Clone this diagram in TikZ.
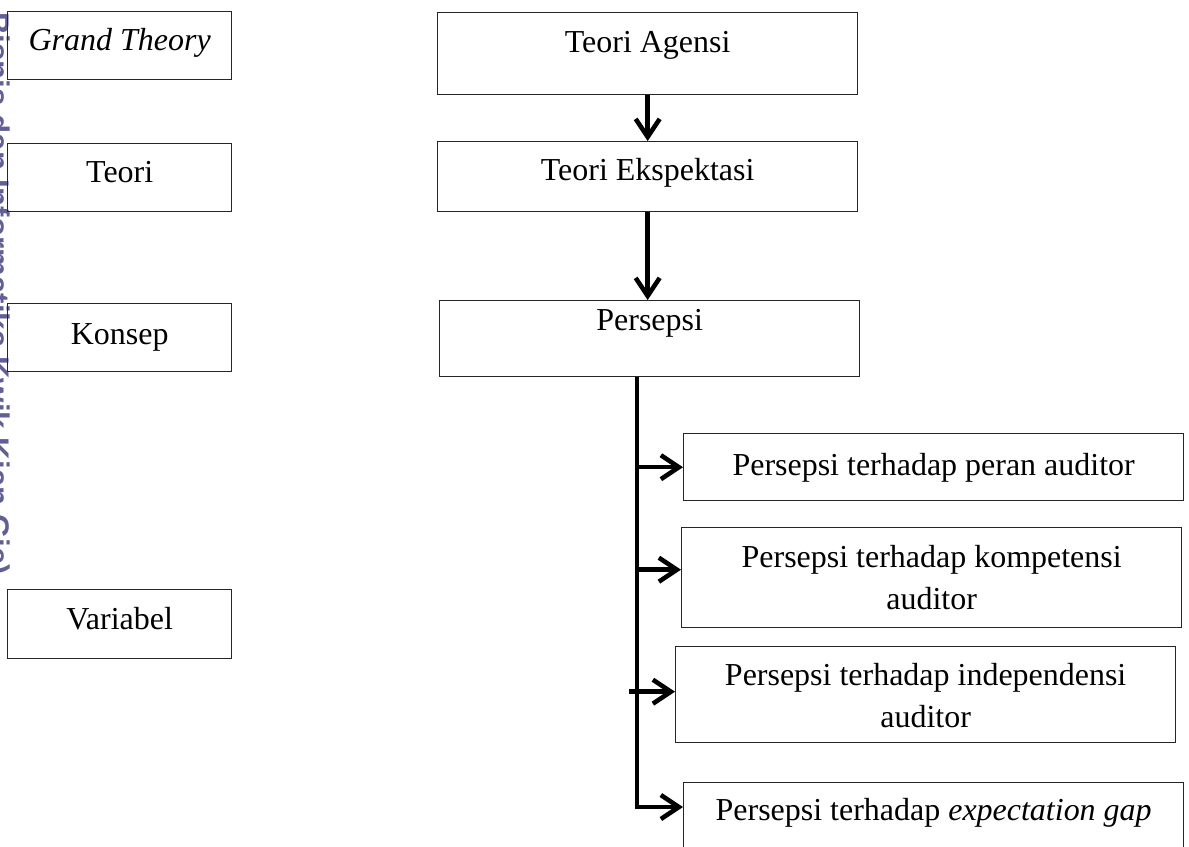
\documentclass[tikz,border=0pt]{standalone}
\usepackage{fontspec}
\setmainfont{Liberation Serif}
\newfontfamily\wmfont{Liberation Sans}
\usepackage{xcolor}
\usetikzlibrary{arrows.meta,positioning,calc}
\definecolor{wmpurple}{RGB}{96,96,150}

\begin{document}
\begin{tikzpicture}[x=0.02cm, y=-0.02cm,
  box/.style={draw=black!85, line width=0.8pt, inner sep=0pt, align=center, font=\fontsize{18.2}{23.9}\selectfont},
  arr/.style={line width=2.6pt, -{Straight Barb[length=3.6mm, width=4.8mm]}}]
  \useasboundingbox (0,0) rectangle (1189,846);
  \clip (0,0) rectangle (1189,846);
  \node[rotate=-90, anchor=base west, text=wmpurple, font=\wmfont\bfseries\fontsize{17.8}{20}\selectfont] (wm) at (-12,6) {Bisnis dan Informatika Kwik Kian Gie)};

  \node[box, anchor=north west, minimum width=4.48cm, text height=0.78cm, text depth=0.58cm] (grand) at (7,11) {\textit{Grand Theory}};
  \node[box, anchor=north west, minimum width=4.48cm, text height=0.78cm, text depth=0.58cm] (teori) at (7,143) {Teori};
  \node[box, anchor=north west, minimum width=4.48cm, text height=0.82cm, text depth=0.54cm] (konsep) at (7,303) {Konsep};
  \node[box, anchor=north west, minimum width=4.48cm, text height=0.8cm, text depth=0.58cm] (variabel) at (7,589) {Variabel};

  \node[box, anchor=north west, minimum width=8.4cm, text height=0.8cm, text depth=0.84cm] (agensi) at (437,12) {Teori Agensi};
  \node[box, anchor=north west, minimum width=8.4cm, text height=0.78cm, text depth=0.62cm] (ekspektasi) at (437,141) {Teori Ekspektasi};
  \node[box, anchor=north west, minimum width=8.4cm, text height=0.6cm, text depth=0.92cm] (persepsi) at (439,300) {Persepsi};

  \node[box, anchor=north west, minimum width=10cm, text height=0.84cm, text depth=0.5cm] (peran) at (683,433) {Persepsi terhadap peran auditor};
  \node[box, anchor=north west, minimum width=10cm, text height=1.64cm, text depth=0.36cm] (kompetensi) at (681,527) {Persepsi terhadap kompetensi\\auditor};
  \node[box, anchor=north west, minimum width=10cm, text height=1.62cm, text depth=0.3cm] (independensi) at (675,646) {Persepsi terhadap independensi\\auditor};
  \node[box, anchor=north west, minimum width=10cm, text height=0.76cm, text depth=0.58cm] (gap) at (683,782) {Persepsi terhadap \textit{expectation gap}};

  \draw[arr] (agensi.south) -- (ekspektasi.north);
  \draw[arr] (ekspektasi.south) -- (ekspektasi.south |- persepsi.north);
  \coordinate (trunk) at (637,807);
  \draw[arr] (persepsi.south -| trunk) -- (trunk) -- (trunk -| gap.west);
  \draw[arr] (trunk |- peran.west) -- (peran.west);
  \draw[arr] ($(trunk |- kompetensi.west)+(0,-8)$) -- ($(kompetensi.west)+(0,-8)$);
  \draw[arr] ($(trunk |- independensi.west)+(-8,-3)$) -- ($(independensi.west)+(0,-3)$);
\end{tikzpicture}
\end{document}
